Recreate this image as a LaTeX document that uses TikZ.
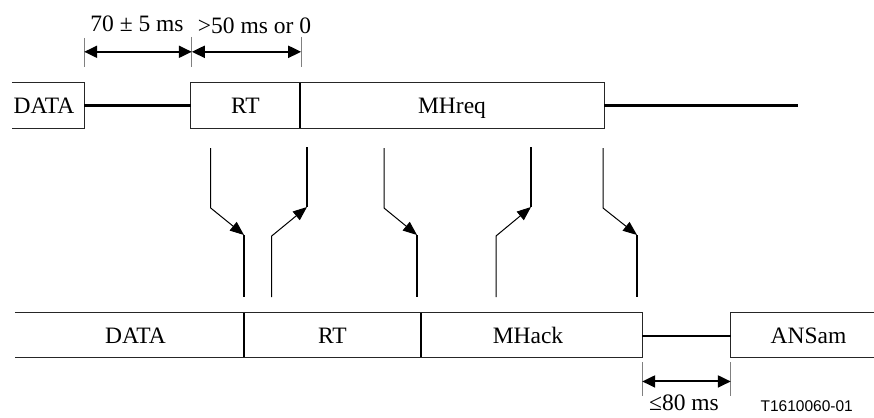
\documentclass[tikz,border=0pt]{standalone}
\usepackage{fontspec}
\setmainfont{Liberation Serif}
\newfontfamily\labelsans{Liberation Sans}
\usetikzlibrary{arrows.meta,calc}
\begin{document}
\begin{tikzpicture}[x=1pt,y=-1pt,
 txt/.style={font=\fontsize{23.5}{27}\selectfont, inner sep=0pt},
 seg/.style={txt, minimum height=45pt, text height=16pt, text depth=0pt, anchor=center},
 frame/.style={line width=1.2pt, draw=black!85},
 cut/.style={line width=2pt},
 link/.style={line width=2.5pt},
 ext/.style={line width=1pt, draw=black!50},
 dim/.style={line width=2pt, {Triangle[length=13pt,width=12pt]}-{Triangle[length=13pt,width=12pt]}},
 thinarr/.style={line width=1pt, -{Triangle[length=14pt,width=11pt]}},
 thickseg/.style={line width=2pt}]
\useasboundingbox (0,0) rectangle (874,417);

% top row
\node[seg, minimum width=80pt] (tdata) at (44,105.5) {DATA};
\node[seg, minimum width=109pt] (trt) at (245.5,105.5) {RT};
\node[seg, minimum width=304pt] (treq) at (452,105.5) {MHreq};
\coordinate (tend) at (798,105.5);
\draw[frame] ($(tdata.north west)+(8,0)$) -- (tdata.north east) -- (tdata.south east) -- ($(tdata.south west)+(8,0)$);
\draw[frame] (trt.north west) rectangle (treq.south east);
\draw[cut] (trt.north east) -- (trt.south east);
\draw[link] (tdata.east) -- (trt.west);
\draw[link] (treq.east) -- (tend);

% top dimensions
\draw[ext] ($(tdata.north east)+(0,-45)$) -- ($(tdata.north east)+(0,-16)$);
\draw[ext] ($(trt.north west)+(1,-46)$) -- ($(trt.north west)+(1,-16)$);
\draw[ext] ($(trt.north east)+(1,-46)$) -- ($(trt.north east)+(1,-16)$);
\draw[dim] ($(tdata.north east)+(0,-31)$) -- ($(trt.north west)+(1,-31)$);
\draw[dim] ($(trt.north west)+(1,-31)$) -- ($(trt.north east)+(1,-31)$);
\node[txt, anchor=base] (lab1) at (137,32) {70 ± 5 ms};
\node[txt, anchor=base] (lab2) at (254.5,34) {>50 ms or 0};

% bottom row
\node[seg, minimum width=217pt, minimum height=44.5pt] (bdata) at (135.5,335) {DATA};
\node[seg, minimum width=177pt, minimum height=44.5pt] (brt) at (332.5,335) {RT};
\node[seg, minimum width=221pt, minimum height=44.5pt] (back) at (528,335) {MHack};
\node[seg, minimum width=155pt, minimum height=44.5pt] (bans) at (808.5,335) {ANSam};
\draw[frame] ($(bdata.north west)+(-12,0)$) -- ($(back.north east)+(3.5,0)$) -- ($(back.south east)+(3.5,0)$) -- ($(bdata.south west)+(-12,0)$);
\draw[cut] (bdata.north east) -- (bdata.south east);
\draw[cut] (brt.north east) -- (brt.south east);
\draw[frame] ($(bans.north east)+(-12,0)$) -- (bans.north west) -- (bans.south west) -- ($(bans.south east)+(-12,0)$);
\draw[link] ($(back.east)+(3.5,1)$) -- ($(bans.west)+(0,1)$);

% bottom dimension
\draw[ext] ($(back.south east)+(3.5,5)$) -- ($(back.south east)+(3.5,39)$);
\draw[ext] ($(bans.south west)+(0,5)$) -- ($(bans.south west)+(0,39)$);
\draw[dim] ($(back.south east)+(3.5,24)$) -- ($(bans.south west)+(0,24)$);
\node[txt, anchor=base] (lab3) at (684,410) {≤80 ms};
\node[font=\labelsans\fontsize{15.5}{18}\selectfont, inner sep=0pt, anchor=base] (code) at (806.7,411) {T1610060-01};

% middle transition arrows
\coordinate (a1s) at (210.7,148); \coordinate (a1k) at (210.7,208); \coordinate (a1t) at (244,235); \coordinate (a1e) at (244,297);
\coordinate (a2s) at (271.7,297); \coordinate (a2k) at (271.7,236); \coordinate (a2t) at (307,207); \coordinate (a2e) at (307,147);
\coordinate (a3s) at (384,148); \coordinate (a3k) at (384,208); \coordinate (a3t) at (417,235); \coordinate (a3e) at (417,297);
\coordinate (a4s) at (496,297); \coordinate (a4k) at (496,236); \coordinate (a4t) at (531,207); \coordinate (a4e) at (531,147);
\coordinate (a5s) at (603,148); \coordinate (a5k) at (603,208); \coordinate (a5t) at (637,235); \coordinate (a5e) at (637,297);
\foreach \i in {1,...,5}{
  \draw[thinarr] (a\i s) -- (a\i k) -- (a\i t);
  \draw[thickseg] (a\i t) -- (a\i e);
}
\end{tikzpicture}
\end{document}
